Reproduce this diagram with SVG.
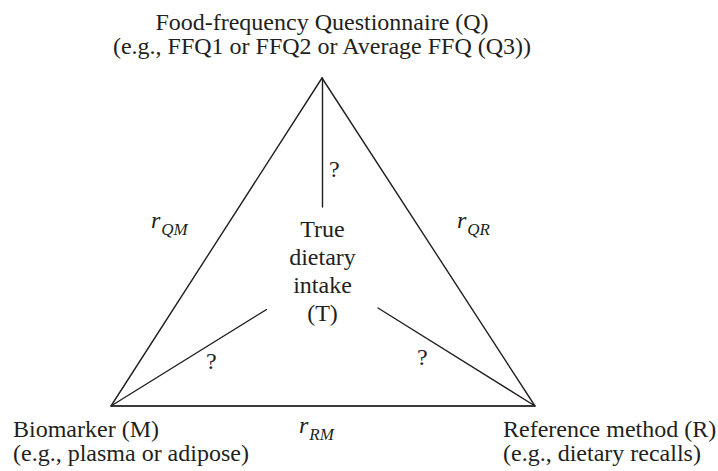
<svg xmlns="http://www.w3.org/2000/svg" width="718" height="471" viewBox="0 0 718 471">
<style>
text{font-family:"Liberation Serif","Times New Roman",serif;font-size:24px;fill:#231f20}
.c{text-anchor:middle}
.i{font-style:italic}
.sub{font-size:17px;font-style:italic}
.ln{stroke:#231f20;stroke-width:1.4;fill:none;stroke-linecap:round}
.base{stroke:#3a3a3a;stroke-width:2.2;fill:none}
</style>
<rect width="718" height="471" fill="#fff"/>
<g id="connectors">
<line class="ln" x1="322" y1="78" x2="111" y2="406"/>
<line class="ln" x1="322" y1="78" x2="535" y2="406"/>
<line class="base" x1="111" y1="406" x2="535" y2="406"/>
<line class="ln" x1="322.5" y1="78" x2="322.5" y2="207"/>
<line class="ln" x1="111" y1="406" x2="266.5" y2="309.5"/>
<line class="ln" x1="535" y1="406" x2="378" y2="308"/>
</g>
<g id="labels">
<text x="206" y="369">?</text>
<text x="417" y="365">?</text>
<text x="329" y="177">?</text>
<text x="151" y="228" class="i">r<tspan class="sub" dx="1" dy="7">QM</tspan></text>
<text x="457" y="228" class="i">r<tspan class="sub" dx="1" dy="7">QR</tspan></text>
<text x="299" y="433" class="i">r<tspan class="sub" dx="1" dy="7">RM</tspan></text>
</g>
<g id="node-Q">
<text class="c" x="322" y="30">Food-frequency Questionnaire (Q)</text>
<text class="c" x="322" y="54">(e.g., FFQ1 or FFQ2 or Average FFQ (Q3))</text>
</g>
<g id="node-T">
<text class="c" x="322.5" y="237">True</text>
<text class="c" x="322.5" y="265">dietary</text>
<text class="c" x="322.5" y="293">intake</text>
<text class="c" x="322.5" y="321">(T)</text>
</g>
<g id="node-M">
<text x="13" y="437">Biomarker (M)</text>
<text x="13" y="461">(e.g., plasma or adipose)</text>
</g>
<g id="node-R">
<text x="503" y="437">Reference method (R)</text>
<text x="503" y="461">(e.g., dietary recalls)</text>
</g>
</svg>
